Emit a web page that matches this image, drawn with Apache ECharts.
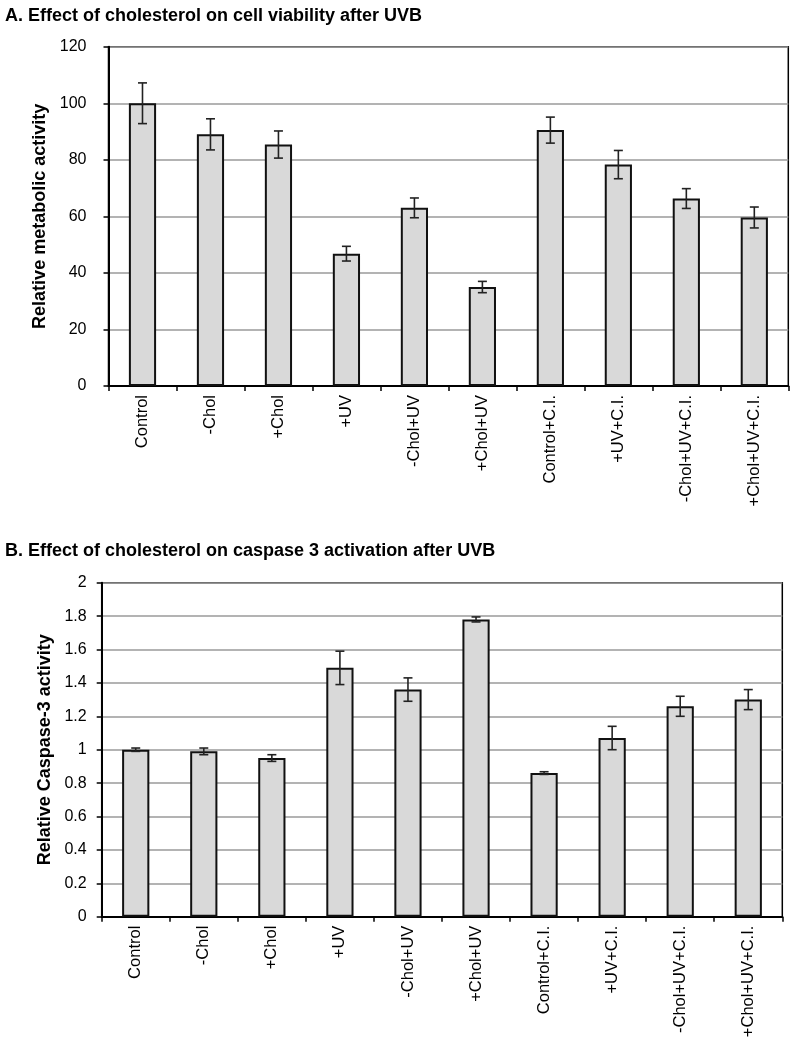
<!DOCTYPE html>
<html>
<head>
<meta charset="utf-8">
<script src="https://cdn.jsdelivr.net/npm/echarts@6/dist/echarts.min.js"></script>
<style>
html,body{margin:0;padding:0;background:#fff;}
#c{width:795px;height:1050px;}
</style>
</head>
<body>
<div id="c"></div>
<script>
const categories = ['Control','-Chol','+Chol','+UV','-Chol+UV','+Chol+UV','Control+C.I.','+UV+C.I.','-Chol+UV+C.I.','+Chol+UV+C.I.'];
const viabilityValues = [100, 89, 85.4, 46.8, 63, 35, 90.5, 78.3, 66.3, 59.6];
const viabilityErrors = [7.2, 5.5, 4.8, 2.6, 3.5, 2, 4.6, 5, 3.5, 3.7];
const caspaseValues = [1.0, 0.99, 0.95, 1.49, 1.36, 1.78, 0.86, 1.07, 1.26, 1.30];
const caspaseErrors = [0.01, 0.02, 0.02, 0.10, 0.07, 0.015, 0.008, 0.07, 0.06, 0.06];
const titleA = 'A. Effect of cholesterol on cell viability after UVB';
const titleB = 'B. Effect of cholesterol on caspase 3 activation after UVB';
const yNameA = 'Relative metabolic activity';
const yNameB = 'Relative Caspase-3 activity';

const FONT = '"Liberation Sans", Arial, sans-serif';
const chart = echarts.init(document.getElementById('c'), null, {renderer:'canvas'});

function errData(vals, errs){
  return vals.map((v,i)=>[i, v - errs[i], v + errs[i]]);
}
function errRender(params, api){
  const lo = api.coord([api.value(0), api.value(1)]);
  const hi = api.coord([api.value(0), api.value(2)]);
  const hw = 4.5;
  const st = {stroke:'#222', lineWidth:1.6, fill:null};
  return {type:'group', children:[
    {type:'line', shape:{x1:lo[0],y1:lo[1],x2:hi[0],y2:hi[1]}, style:st},
    {type:'line', shape:{x1:lo[0]-hw,y1:lo[1],x2:lo[0]+hw,y2:lo[1]}, style:st},
    {type:'line', shape:{x1:hi[0]-hw,y1:hi[1],x2:hi[0]+hw,y2:hi[1]}, style:st}
  ]};
}
function xAxis(gi){
  return {
    type:'category', gridIndex:gi, data:categories,
    axisLine:{lineStyle:{color:'#000', width:2}},
    axisTick:{show:true, length:5, lineStyle:{color:'#000', width:1.5}},
    axisLabel:{rotate:90, fontFamily:FONT, fontSize:16.5, color:'#000', margin:9}
  };
}
function yAxis(gi, max, interval, name, gap, margin){
  return {
    type:'value', gridIndex:gi, min:0, max:max, interval:interval,
    name:name, nameLocation:'middle', nameGap:gap, nameRotate:90,
    nameTextStyle:{fontFamily:FONT, fontSize:18, fontWeight:'bold', color:'#000'},
    axisLine:{show:true, lineStyle:{color:'#000', width:2}},
    axisTick:{show:true, length:5, lineStyle:{color:'#000', width:1.5}},
    axisLabel:{fontFamily:FONT, fontSize:16, color:'#000', margin:margin},
    splitLine:{show:true, lineStyle:{color:'#9a9a9a', width:1.5}}
  };
}
const barStyle = {color:'#d9d9d9', borderColor:'#111', borderWidth:2};

chart.setOption({
  animation:false,
  backgroundColor:'#fff',
  title:[
    {text:titleA, left:0, top:2, textStyle:{fontFamily:FONT, fontSize:18, fontWeight:'bold', color:'#000'}},
    {text:titleB, left:0, top:537, textStyle:{fontFamily:FONT, fontSize:18, fontWeight:'bold', color:'#000'}}
  ],
  grid:[
    {left:108.5, right:6.7, top:46.7, height:339.3, show:true, borderColor:'#000', borderWidth:1.5, backgroundColor:'transparent'},
    {left:101.7, right:12.7, top:582.7, height:334, show:true, borderColor:'#000', borderWidth:1.5, backgroundColor:'transparent'}
  ],
  xAxis:[xAxis(0), xAxis(1)],
  yAxis:[yAxis(0, 120, 20, yNameA, 54, 22), yAxis(1, 2, 0.2, yNameB, 47, 15)],
  series:[
    {type:'bar', xAxisIndex:0, yAxisIndex:0, data:viabilityValues, barWidth:'40%', itemStyle:barStyle},
    {type:'custom', xAxisIndex:0, yAxisIndex:0, data:errData(viabilityValues, viabilityErrors), renderItem:errRender, z:5},
    {type:'bar', xAxisIndex:1, yAxisIndex:1, data:caspaseValues, barWidth:'40%', itemStyle:barStyle},
    {type:'custom', xAxisIndex:1, yAxisIndex:1, data:errData(caspaseValues, caspaseErrors), renderItem:errRender, z:5}
  ]
});
</script>
</body>
</html>
